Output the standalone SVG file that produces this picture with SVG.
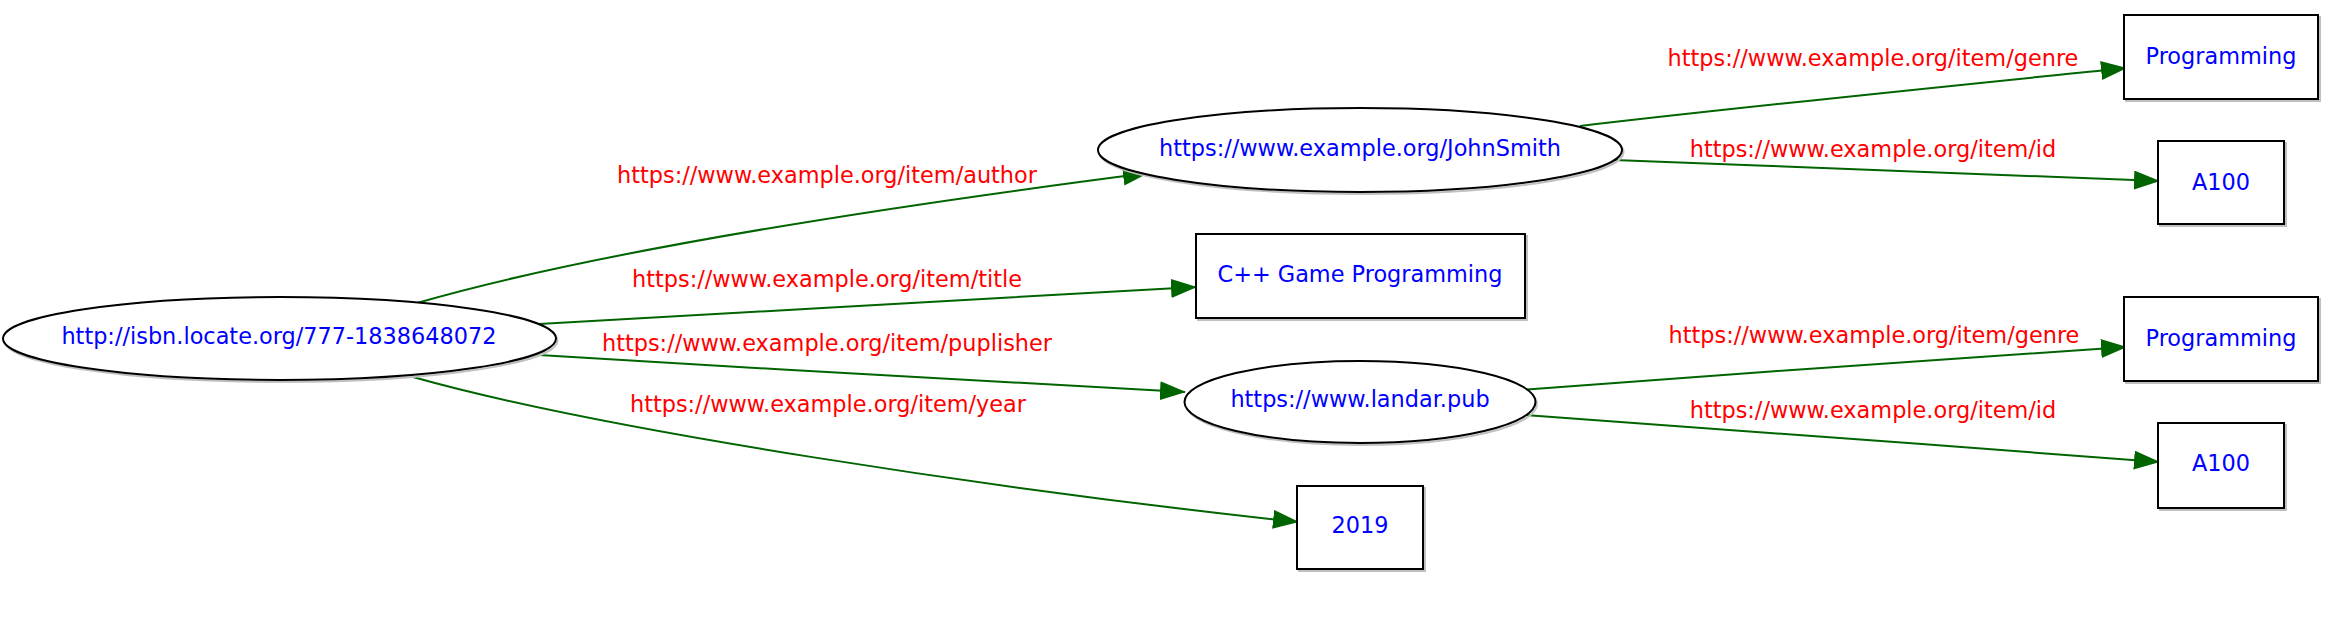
<svg xmlns="http://www.w3.org/2000/svg" width="2346" height="634" viewBox="0 0 2346 634">
  <defs>
    <style>
      .bg { fill: #ffffff; }
      .node-shape { fill: #ffffff; stroke: #000000; stroke-width: 2; }
      .shadow { fill: none; stroke: #c0c0c0; stroke-width: 2; }
      .node-text { font-family: "DejaVu Sans", "Liberation Sans", sans-serif; font-size: 22.4px; fill: #0000ff; text-anchor: middle; }
      .edge { fill: none; stroke: #006400; stroke-width: 2; }
      .edge-label { font-family: "DejaVu Sans", "Liberation Sans", sans-serif; font-size: 22.4px; fill: #ff0000; text-anchor: middle; }
    </style>
    <marker id="arrow" markerUnits="userSpaceOnUse" viewBox="0 0 26 19" markerWidth="26" markerHeight="19" refX="25" refY="9.5" orient="auto">
      <path d="M0,0 L26,9.5 L0,19 Z" fill="#006400"/>
    </marker>
  </defs>
  <rect class="bg" x="0" y="0" width="2346" height="634"/>

  <g id="connectors">
    <path class="edge" marker-end="url(#arrow)" d="M417,303 C600,250 900,205 1148,173"/>
    <path class="edge" marker-end="url(#arrow)" d="M539,324 C750,312 1000,298 1196,287"/>
    <path class="edge" marker-end="url(#arrow)" d="M539,355 C750,368 1000,382 1185,392"/>
    <path class="edge" marker-end="url(#arrow)" d="M413,377 C600,430 1000,490 1298,522"/>
    <path class="edge" marker-end="url(#arrow)" d="M1580,126 C1750,106 1950,86 2126,68"/>
    <path class="edge" marker-end="url(#arrow)" d="M1614,160 C1800,167 2000,175 2159,181"/>
    <path class="edge" marker-end="url(#arrow)" d="M1527,389.6 C1720,375 1950,358 2126,347"/>
    <path class="edge" marker-end="url(#arrow)" d="M1525,415 C1720,429 1950,446 2159,462"/>

    <text class="edge-label" x="827" y="183">https://www.example.org/item/author</text>
    <text class="edge-label" x="827" y="287">https://www.example.org/item/title</text>
    <text class="edge-label" x="827" y="351">https://www.example.org/item/puplisher</text>
    <text class="edge-label" x="828" y="412">https://www.example.org/item/year</text>
    <text class="edge-label" x="1873" y="66">https://www.example.org/item/genre</text>
    <text class="edge-label" x="1873" y="157">https://www.example.org/item/id</text>
    <text class="edge-label" x="1874" y="343">https://www.example.org/item/genre</text>
    <text class="edge-label" x="1873" y="418">https://www.example.org/item/id</text>
  </g>

  <g id="node-book">
    <ellipse class="shadow" cx="281" cy="340.5" rx="276.5" ry="41.5"/>
    <ellipse class="node-shape" cx="279.5" cy="338.5" rx="276.5" ry="41.5"/>
    <text class="node-text" x="279" y="344">http://isbn.locate.org/777-1838648072</text>
  </g>

  <g id="node-johnsmith">
    <ellipse class="shadow" cx="1361.5" cy="152" rx="262" ry="42"/>
    <ellipse class="node-shape" cx="1360" cy="150" rx="262" ry="42"/>
    <text class="node-text" x="1360" y="156">https://www.example.org/JohnSmith</text>
  </g>

  <g id="node-title">
    <rect class="shadow" x="1198" y="236" width="329" height="84"/>
    <rect class="node-shape" x="1196" y="234" width="329" height="84"/>
    <text class="node-text" x="1360" y="282">C++ Game Programming</text>
  </g>

  <g id="node-landar">
    <ellipse class="shadow" cx="1361.5" cy="404" rx="175.5" ry="41"/>
    <ellipse class="node-shape" cx="1360" cy="402" rx="175.5" ry="41"/>
    <text class="node-text" x="1360" y="407">https://www.landar.pub</text>
  </g>

  <g id="node-year">
    <rect class="shadow" x="1299" y="488" width="126" height="83"/>
    <rect class="node-shape" x="1297" y="486" width="126" height="83"/>
    <text class="node-text" x="1360" y="533">2019</text>
  </g>

  <g id="node-genre1">
    <rect class="shadow" x="2126" y="17" width="194" height="84"/>
    <rect class="node-shape" x="2124" y="15" width="194" height="84"/>
    <text class="node-text" x="2221" y="64">Programming</text>
  </g>

  <g id="node-id1">
    <rect class="shadow" x="2160" y="143" width="126" height="83"/>
    <rect class="node-shape" x="2158" y="141" width="126" height="83"/>
    <text class="node-text" x="2221" y="190">A100</text>
  </g>

  <g id="node-genre2">
    <rect class="shadow" x="2126" y="299" width="194" height="84"/>
    <rect class="node-shape" x="2124" y="297" width="194" height="84"/>
    <text class="node-text" x="2221" y="346">Programming</text>
  </g>

  <g id="node-id2">
    <rect class="shadow" x="2160" y="425" width="126" height="85"/>
    <rect class="node-shape" x="2158" y="423" width="126" height="85"/>
    <text class="node-text" x="2221" y="471">A100</text>
  </g>
</svg>
